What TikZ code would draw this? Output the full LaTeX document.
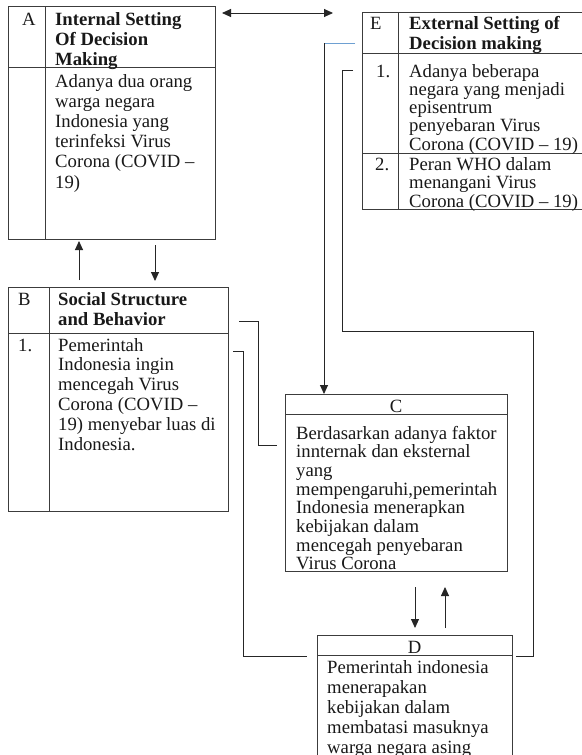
\documentclass[tikz,border=0pt]{standalone}
\usepackage{fontspec}
\setmainfont{Liberation Serif}
\usetikzlibrary{arrows.meta,calc}
\definecolor{ink}{RGB}{25,25,25}
\definecolor{edge}{RGB}{60,60,60}
\definecolor{lnblue}{RGB}{110,160,210}
\newcommand\txtlines[6]{\foreach \t [count=\i] in {#6}{\node[#5] (#1\i) at (#2,{#3+(\i-1)*(#4)}) {\t};}}
\begin{document}
\begin{tikzpicture}[x=1pt,y=-1pt,
  box/.style={draw=edge,line width=0.9pt,rectangle,inner sep=0pt,outer sep=0pt,anchor=north west},
  rule/.style={draw=edge,line width=0.9pt},
  txt/.style={font=\fontsize{18.7}{20}\selectfont,text=ink,inner sep=0pt,anchor=base west},
  hd/.style={txt,font=\fontsize{18.7}{20}\selectfont\bfseries},
  lbl/.style={txt,anchor=base},
  conn/.style={draw=black!85,line width=0.9pt},
  arr/.style={conn,-{Triangle[length=9pt,width=8pt]}},
  darr/.style={conn,{Triangle[length=9pt,width=8pt]}-{Triangle[length=9pt,width=8pt]}},
]
\useasboundingbox (0,0) rectangle (581,755);
\fill[white] (0,0) rectangle (581,755);

% boxes
\node[box,minimum width=207pt,minimum height=233pt] (A) at (8,6) {};
\node[box,minimum width=220pt,minimum height=224pt] (B) at (8,287) {};
\node[box,minimum width=222pt,minimum height=197pt] (E) at (362,12) {};
\node[box,minimum width=222pt,minimum height=177pt] (C) at (285,394) {};
\node[box,minimum width=195pt,minimum height=140pt] (D) at (317,635) {};

% dividers
\draw[rule] ($(A.north west)+(37,0)$) -- ($(A.south west)+(37,0)$);
\draw[rule] ($(A.north west)+(0,61)$) -- ($(A.north east)+(0,61)$);
\draw[rule] ($(B.north west)+(41,0)$) -- ($(B.south west)+(41,0)$);
\draw[rule] ($(B.north west)+(0,46)$) -- ($(B.north east)+(0,46)$);
\draw[rule] ($(E.north west)+(36,0)$) -- ($(E.south west)+(36,0)$);
\draw[rule] ($(E.north west)+(0,41)$) -- ($(E.north east)+(0,41)$);
\draw[rule] ($(E.north west)+(0,141)$) -- ($(E.north east)+(0,141)$);
\draw[rule] ($(C.north west)+(0,20)$) -- ($(C.north east)+(0,20)$);
\draw[rule] ($(D.north west)+(0,20)$) -- ($(D.north east)+(0,20)$);

% box A
\node[txt] (Alab) at (22,25) {A};
\txtlines{Ah}{55}{25}{20}{hd}{Internal Setting,Of Decision,Making}
\txtlines{Ab}{55}{87}{20.2}{txt}{Adanya dua orang,warga negara,Indonesia yang,terinfeksi Virus,Corona (COVID \textendash,19)}

% box B
\node[txt] (Blab) at (18,305) {B};
\txtlines{Bh}{58}{305}{20}{hd}{Social Structure,and Behavior}
\node[txt] (Bn1) at (18,351) {1.};
\txtlines{Bb}{58}{351}{19.8}{txt}{Pemerintah,Indonesia ingin,mencegah Virus,Corona (COVID \textendash,19) menyebar luas di,Indonesia.}

% box E
\node[txt] (Elab) at (370,29) {E};
\txtlines{Eh}{409}{29}{20}{hd}{External Setting of,Decision making}
\node[txt] (En1) at (376,77) {1.};
\txtlines{Ea}{409}{77}{18.25}{txt}{Adanya beberapa,negara yang menjadi,episentrum,penyebaran Virus,Corona (COVID \textendash\ 19)}
\node[txt] (En2) at (375,170) {2.};
\txtlines{Eb}{409}{170}{18.5}{txt}{Peran WHO dalam,menangani Virus,Corona (COVID \textendash\ 19)}

% box C
\node[lbl] (Clab) at (396,412) {C};
\txtlines{Cb}{296}{439}{18.71}{txt}{Berdasarkan adanya faktor,innternak dan eksternal,yang,{mempengaruhi,pemerintah},Indonesia menerapkan,kebijakan dalam,mencegah penyebaran,Virus Corona}

% box D
\node[lbl] (Dlab) at (414.5,653) {D};
\txtlines{Db}{327}{673}{20}{txt}{Pemerintah indonesia,menerapakan,kebijakan dalam,membatasi masuknya,warga negara asing}

% connectors
\draw[darr] ($(A.north east)+(7,7)$) -- ($(E.north west)+(-29,1)$);
\draw[arr] ($(B.north west)+(71,-7)$) -- ($(A.south west)+(71,2)$);
\draw[arr] ($(A.south west)+(147,6)$) -- ($(B.north west)+(147,-6)$);

\coordinate (bc1) at ($(B.north east)+(11,34)$);
\coordinate (bc2) at ($(C.north west)+(-8,51)$);
\draw[conn] (bc1) -- ++(19,0) |- (bc2);

\coordinate (bd1) at ($(B.north east)+(5,64)$);
\coordinate (bd2) at ($(D.north west)+(-10,21)$);
\draw[conn] (bd1) -- ++(10,0) |- (bd2);

\coordinate (ec1) at ($(E.north west)+(-7,31)$);
\coordinate (ec2) at ($(C.north west)+(39,0)$);
\draw[draw=lnblue,line width=0.7pt] (ec1) -- (ec1 -| ec2);
\draw[arr] (ec1 -| ec2) -- (ec2);

\coordinate (ed1) at ($(E.north west)+(-9,58)$);
\coordinate (ed2) at ($(D.north east)+(4,21)$);
\draw[conn] (ed1) -- ++(-11,0) -- ++(0,261) -- ++(191,0) |- (ed2);

\draw[arr] ($(C.south west)+(130,16)$) -- ($(D.north west)+(98,-7)$);
\draw[arr] ($(D.north west)+(128,-7)$) -- ($(C.south west)+(160,16)$);
\end{tikzpicture}
\end{document}
